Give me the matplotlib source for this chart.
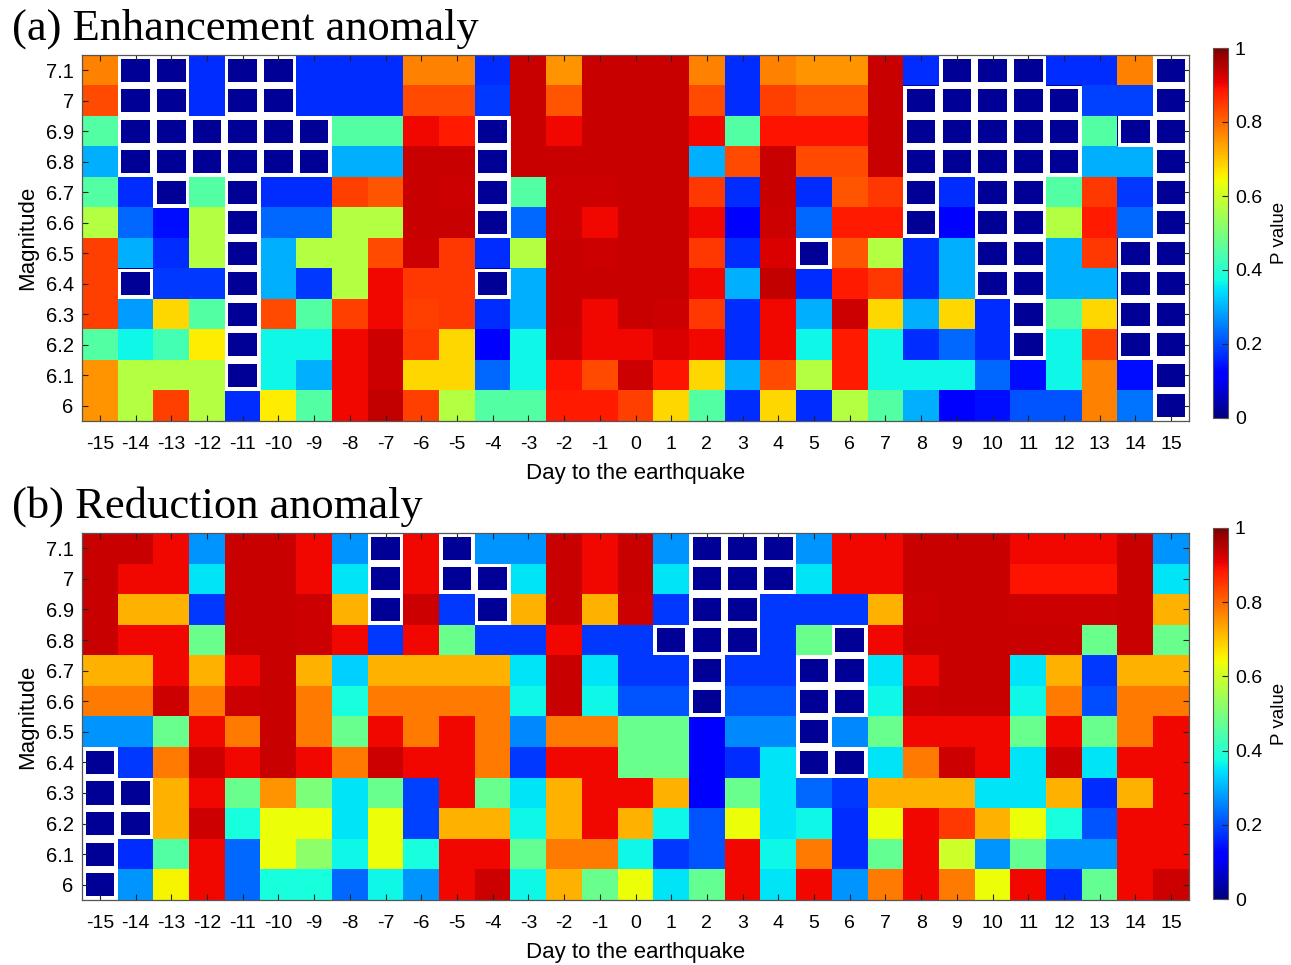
import numpy as np
import matplotlib.pyplot as plt
from matplotlib.patches import Rectangle

plt.rcParams['font.family'] = ['Liberation Sans', 'DejaVu Sans']

# ==========================================
# DADOS (valores P)
# ==========================================
days = list(range(-15, 16))
magnitudes = ['7.1', '7', '6.9', '6.8', '6.7', '6.6', '6.5', '6.4', '6.3', '6.2', '6.1', '6']

S = 0.02  # células significativas (p < 0.05)

# linhas de cima (7.1) para baixo (6); colunas de -15 a 15
enhancement = np.array([
    [0.77, S, S, 0.17, S, S, 0.17, 0.17, 0.17, 0.77, 0.77, 0.17, 0.935, 0.75, 0.935, 0.935, 0.935, 0.77, 0.17, 0.77, 0.75, 0.75, 0.935, 0.17, S, S, S, 0.17, 0.17, 0.77, S],
    [0.83, S, S, 0.17, S, S, 0.17, 0.17, 0.17, 0.83, 0.83, 0.18, 0.935, 0.82, 0.935, 0.935, 0.935, 0.83, 0.17, 0.84, 0.82, 0.82, 0.935, S, S, S, S, S, 0.19, 0.19, S],
    [0.45, S, S, S, S, S, S, 0.45, 0.45, 0.90, 0.88, S, 0.935, 0.90, 0.935, 0.935, 0.935, 0.90, 0.45, 0.89, 0.89, 0.89, 0.935, S, S, S, S, S, 0.45, S, S],
    [0.30, S, S, S, S, S, S, 0.30, 0.30, 0.935, 0.935, S, 0.935, 0.935, 0.935, 0.935, 0.935, 0.30, 0.83, 0.935, 0.83, 0.83, 0.935, S, S, S, S, S, 0.30, 0.30, S],
    [0.45, 0.17, S, 0.45, S, 0.17, 0.17, 0.84, 0.82, 0.935, 0.93, S, 0.45, 0.93, 0.93, 0.935, 0.935, 0.85, 0.17, 0.935, 0.17, 0.82, 0.85, S, 0.17, S, S, 0.45, 0.85, 0.18, S],
    [0.57, 0.23, 0.14, 0.57, S, 0.23, 0.23, 0.57, 0.57, 0.935, 0.935, S, 0.23, 0.93, 0.90, 0.935, 0.935, 0.90, 0.11, 0.93, 0.23, 0.88, 0.88, S, 0.12, S, S, 0.57, 0.88, 0.23, S],
    [0.84, 0.30, 0.17, 0.57, S, 0.30, 0.57, 0.57, 0.83, 0.93, 0.85, 0.17, 0.57, 0.935, 0.93, 0.935, 0.935, 0.85, 0.17, 0.92, S, 0.82, 0.57, 0.17, 0.30, S, S, 0.30, 0.85, S, S],
    [0.84, S, 0.18, 0.18, S, 0.30, 0.18, 0.57, 0.90, 0.85, 0.85, S, 0.30, 0.935, 0.935, 0.935, 0.935, 0.90, 0.30, 0.94, 0.17, 0.88, 0.85, 0.17, 0.30, S, S, 0.30, 0.30, S, S],
    [0.84, 0.28, 0.68, 0.45, S, 0.83, 0.45, 0.84, 0.90, 0.84, 0.85, 0.17, 0.30, 0.935, 0.90, 0.935, 0.93, 0.85, 0.17, 0.90, 0.30, 0.93, 0.68, 0.30, 0.68, 0.17, S, 0.45, 0.68, S, S],
    [0.45, 0.37, 0.43, 0.66, S, 0.37, 0.37, 0.90, 0.93, 0.85, 0.68, 0.11, 0.37, 0.93, 0.90, 0.90, 0.92, 0.90, 0.17, 0.90, 0.37, 0.88, 0.37, 0.17, 0.23, 0.17, S, 0.37, 0.84, S, S],
    [0.75, 0.57, 0.57, 0.57, S, 0.37, 0.30, 0.90, 0.93, 0.68, 0.68, 0.23, 0.37, 0.89, 0.83, 0.93, 0.89, 0.68, 0.30, 0.83, 0.57, 0.88, 0.37, 0.37, 0.37, 0.23, 0.14, 0.37, 0.77, 0.14, S],
    [0.75, 0.57, 0.84, 0.57, 0.17, 0.66, 0.45, 0.90, 0.94, 0.84, 0.57, 0.45, 0.45, 0.88, 0.88, 0.84, 0.68, 0.45, 0.17, 0.68, 0.17, 0.57, 0.45, 0.30, 0.12, 0.14, 0.21, 0.21, 0.77, 0.24, S],
])

reduction = np.array([
    [0.935, 0.935, 0.90, 0.27, 0.935, 0.935, 0.90, 0.27, S, 0.90, S, 0.27, 0.27, 0.935, 0.90, 0.935, 0.27, S, S, S, 0.27, 0.90, 0.90, 0.935, 0.935, 0.935, 0.90, 0.90, 0.90, 0.935, 0.27],
    [0.935, 0.90, 0.90, 0.35, 0.935, 0.935, 0.90, 0.35, S, 0.90, S, S, 0.35, 0.935, 0.90, 0.935, 0.35, S, S, S, 0.35, 0.90, 0.90, 0.935, 0.935, 0.935, 0.89, 0.89, 0.89, 0.935, 0.35],
    [0.935, 0.72, 0.72, 0.18, 0.935, 0.935, 0.93, 0.72, S, 0.93, 0.18, S, 0.72, 0.935, 0.72, 0.93, 0.18, S, S, 0.18, 0.18, 0.18, 0.72, 0.93, 0.935, 0.935, 0.93, 0.93, 0.93, 0.935, 0.72],
    [0.935, 0.90, 0.90, 0.48, 0.935, 0.935, 0.93, 0.90, 0.18, 0.90, 0.48, 0.18, 0.18, 0.90, 0.18, 0.18, S, S, S, 0.18, 0.48, S, 0.90, 0.935, 0.935, 0.935, 0.935, 0.935, 0.48, 0.935, 0.48],
    [0.72, 0.72, 0.90, 0.72, 0.90, 0.935, 0.72, 0.33, 0.72, 0.72, 0.72, 0.72, 0.35, 0.935, 0.35, 0.18, 0.18, S, 0.18, 0.18, S, S, 0.35, 0.90, 0.935, 0.935, 0.35, 0.72, 0.18, 0.72, 0.72],
    [0.78, 0.78, 0.93, 0.78, 0.93, 0.935, 0.78, 0.38, 0.78, 0.78, 0.78, 0.78, 0.37, 0.935, 0.37, 0.21, 0.21, S, 0.21, 0.21, S, S, 0.37, 0.93, 0.935, 0.935, 0.37, 0.78, 0.20, 0.78, 0.78],
    [0.27, 0.27, 0.48, 0.90, 0.78, 0.935, 0.78, 0.48, 0.90, 0.78, 0.90, 0.78, 0.26, 0.78, 0.78, 0.48, 0.48, 0.12, 0.26, 0.26, S, 0.26, 0.48, 0.90, 0.90, 0.90, 0.48, 0.90, 0.48, 0.78, 0.90],
    [S, 0.18, 0.78, 0.93, 0.90, 0.935, 0.90, 0.78, 0.93, 0.90, 0.90, 0.78, 0.18, 0.90, 0.90, 0.48, 0.48, 0.12, 0.17, 0.35, S, S, 0.35, 0.78, 0.93, 0.90, 0.35, 0.93, 0.35, 0.90, 0.90],
    [S, S, 0.72, 0.90, 0.48, 0.75, 0.50, 0.35, 0.48, 0.19, 0.90, 0.48, 0.35, 0.72, 0.90, 0.90, 0.72, 0.12, 0.48, 0.35, 0.23, 0.18, 0.72, 0.72, 0.72, 0.35, 0.35, 0.72, 0.17, 0.72, 0.90],
    [S, S, 0.72, 0.93, 0.38, 0.64, 0.64, 0.35, 0.64, 0.19, 0.72, 0.72, 0.37, 0.72, 0.90, 0.72, 0.37, 0.21, 0.64, 0.35, 0.37, 0.17, 0.64, 0.90, 0.85, 0.72, 0.64, 0.38, 0.21, 0.90, 0.90],
    [S, 0.17, 0.45, 0.90, 0.23, 0.64, 0.52, 0.37, 0.64, 0.38, 0.90, 0.90, 0.47, 0.78, 0.78, 0.37, 0.18, 0.21, 0.90, 0.37, 0.78, 0.17, 0.47, 0.90, 0.60, 0.27, 0.47, 0.27, 0.27, 0.90, 0.90],
    [S, 0.27, 0.65, 0.90, 0.23, 0.38, 0.38, 0.23, 0.37, 0.27, 0.90, 0.93, 0.37, 0.72, 0.48, 0.64, 0.35, 0.47, 0.90, 0.35, 0.90, 0.27, 0.78, 0.90, 0.78, 0.64, 0.90, 0.17, 0.47, 0.90, 0.93],
])

cbar_ticks = [0, 0.2, 0.4, 0.6, 0.8, 1]
cbar_labels = ['0', '0.2', '0.4', '0.6', '0.8', '1']

# ==========================================
# PLOTAGEM
# ==========================================
W, H = 1291, 965
fig = plt.figure(figsize=(W / 100, H / 100), dpi=100)
cmap = plt.get_cmap('jet')
frame_color = '#555555'


def painel(ax, cax, dados, titulo, y_titulo):
    im = ax.imshow(dados, cmap=cmap, vmin=0, vmax=1, aspect='auto', interpolation='nearest')

    # células significativas: moldura branca
    dx, dy = 0.10, 0.12
    for i, j in zip(*np.where(dados < 0.05)):
        ax.add_patch(Rectangle((j - 0.5, i - 0.5), 1, 1, facecolor='white', edgecolor='none'))
        ax.add_patch(Rectangle((j - 0.5 + dx, i - 0.5 + dy), 1 - 2 * dx, 1 - 2 * dy,
                               facecolor=cmap(dados[i, j]), edgecolor='none'))

    ax.set_xticks(range(len(days)))
    ax.set_xticklabels([str(d) for d in days])
    ax.set_yticks(range(len(magnitudes)))
    ax.set_yticklabels(magnitudes)
    ax.set_xlim(-0.5, len(days) - 0.5)
    ax.set_ylim(len(magnitudes) - 0.5, -0.5)
    ax.tick_params(direction='in', top=True, right=True, length=4, width=0.8,
                   color='#222222', labelsize=14)
    ax.tick_params(axis='x', pad=11)
    ax.tick_params(axis='y', pad=6, labelsize=14.5)
    ax.set_xlabel('Day to the earthquake', fontsize=16, labelpad=7)
    ax.set_ylabel('Magnitude', fontsize=16, labelpad=5)
    for sp in ax.spines.values():
        sp.set_color(frame_color)
        sp.set_linewidth(0.9)

    cb = fig.colorbar(im, cax=cax, ticks=cbar_ticks)
    cb.ax.set_yticklabels(cbar_labels)
    cb.ax.tick_params(direction='in', length=4, width=0.8, color='#222222', labelsize=14, pad=5)
    cb.set_label('P value', fontsize=13.5, labelpad=6)
    cb.outline.set_edgecolor(frame_color)
    cb.outline.set_linewidth(0.8)

    fig.text(12 / W, y_titulo, titulo, family='Liberation Serif', fontsize=32,
             ha='left', va='baseline')


ax_a = fig.add_axes([82 / W, 1 - 421 / H, 1107 / W, 366 / H])
cax_a = fig.add_axes([1213 / W, 1 - 418 / H, 15 / W, 370 / H])
ax_b = fig.add_axes([82 / W, 1 - 900 / H, 1107 / W, 367 / H])
cax_b = fig.add_axes([1213 / W, 1 - 899 / H, 15 / W, 371 / H])

painel(ax_a, cax_a, enhancement, '(a) Enhancement anomaly', 1 - 40 / H)
painel(ax_b, cax_b, reduction, '(b) Reduction anomaly', 1 - 518 / H)

fig.savefig('out.png', dpi=100)
